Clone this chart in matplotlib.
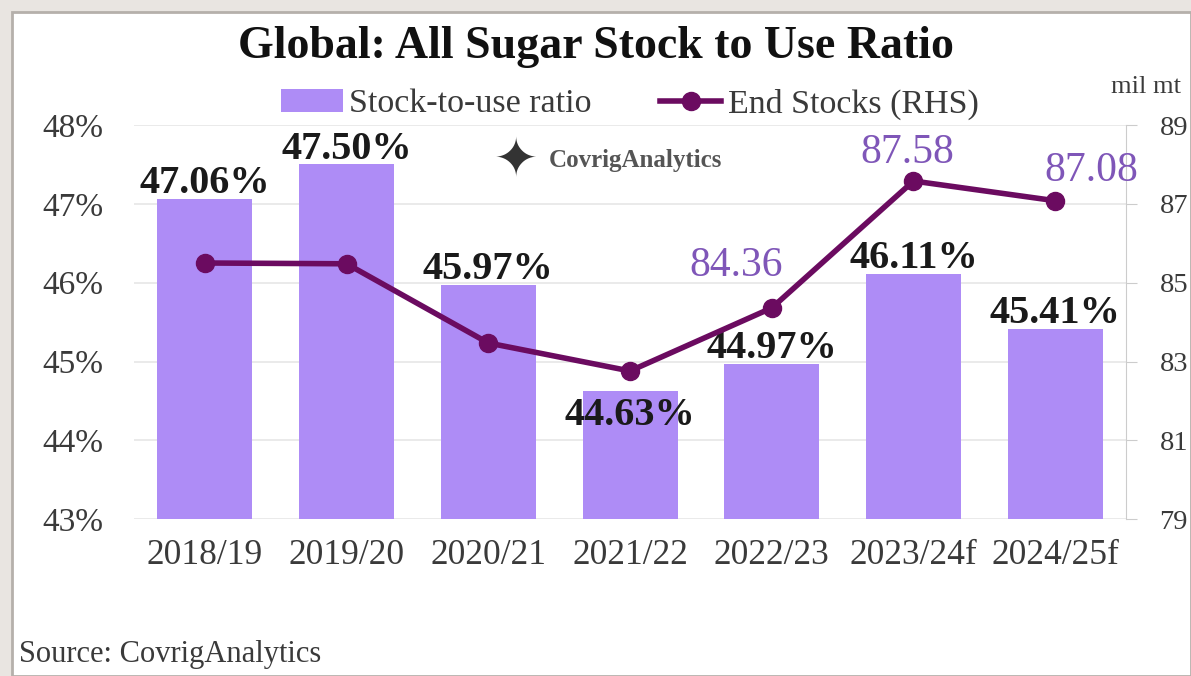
import matplotlib
matplotlib.use("Agg")
import matplotlib.pyplot as plt
from matplotlib.patches import Rectangle
import numpy as np

plt.rcParams['font.family'] = ['Liberation Serif', 'DejaVu Serif']

seasons = ["2018/19", "2019/20", "2020/21", "2021/22", "2022/23", "2023/24f", "2024/25f"]
ratio = [47.06, 47.50, 45.97, 44.63, 44.97, 46.11, 45.41]
stocks = [85.50, 85.48, 83.47, 82.76, 84.36, 87.58, 87.08]
# which end-stock points get a label, and where the label sits (px offset)
stock_labels = {4: (-36, 42), 5: (-6, 28), 6: (36, 30)}

bar_col = "#ae8cf6"
line_col = "#6b0b60"
lbl_col = "#7f56b8"
txt_col = "#3a3a3a"

fig = plt.figure(figsize=(11.91, 6.76), dpi=100)
fig.patch.set_facecolor("#e9e5e1")
# white panel with a grey frame
fig.patches.append(Rectangle((12 / 1191, 0), 1 - 12 / 1191, 1 - 12 / 676,
                             transform=fig.transFigure, facecolor="white",
                             edgecolor="#b5b0ab", linewidth=2, zorder=-10))

ax = fig.add_axes([0.1125, 0.232, 0.833, 0.583])
ax.set_facecolor("none")
x = np.arange(len(seasons))
bars = ax.bar(x, [r - 43 for r in ratio], bottom=43, width=0.67, color=bar_col,
              zorder=2, label="Stock-to-use ratio")
ax.set_xlim(-0.5, len(seasons) - 0.5)
ax.set_ylim(43, 48)
ax.set_yticks(range(43, 49))
ax.set_yticklabels([f"{v}%" for v in range(43, 49)], fontsize=24, color=txt_col)
ax.set_xticks(x)
ax.set_xticklabels(seasons, fontsize=25.5, color=txt_col)
ax.tick_params(axis="x", length=0, pad=14)
ax.tick_params(axis="y", length=0, pad=22)
ax.grid(axis="y", color="#e6e6e6", linewidth=1.2, zorder=0)
for s in ax.spines.values():
    s.set_visible(False)

for i, r in enumerate(ratio):
    if i == 3:
        # low bar: label goes inside, under the line
        ax.text(i, r - 0.08, f"{r:.2f}%", ha="center", va="top", fontsize=29,
                fontweight="bold", color="#1a1a1a", zorder=5)
    else:
        ax.text(i, r - 0.04, f"{r:.2f}%", ha="center", va="bottom", fontsize=29,
                fontweight="bold", color="#1a1a1a", zorder=5)

ax2 = ax.twinx()
ax2.plot(x, stocks, color=line_col, linewidth=4, marker="o", markersize=13,
         zorder=4, label="End Stocks (RHS)")
ax2.set_ylim(79, 89)
ax2.set_yticks(range(79, 90, 2))
ax2.tick_params(axis="y", labelsize=20.5, labelcolor=txt_col, length=8,
                color="#cccccc", pad=16)
for k in ["top", "left", "bottom"]:
    ax2.spines[k].set_visible(False)
ax2.spines["right"].set_color("#cccccc")
for i, (dx, dy) in stock_labels.items():
    ax2.annotate(f"{stocks[i]:.2f}", (i, stocks[i]), xytext=(dx * 0.72, dy * 0.72),
                 textcoords="offset points", ha="center", va="center",
                 fontsize=30, color=lbl_col, zorder=5)

fig.text(0.5, 0.93, "Global: All Sugar Stock to Use Ratio", ha="center",
         va="center", fontsize=33, fontweight="bold", color="#111111")
fig.text(0.992, 0.872, "mil mt", ha="right", va="center", fontsize=19,
         color=txt_col)

h1, l1 = ax.get_legend_handles_labels()
h2, l2 = ax2.get_legend_handles_labels()
fig.legend(h1 + h2, l1 + l2, loc="center", bbox_to_anchor=(0.529, 0.846), ncol=2,
           frameon=False, fontsize=24.5, handlelength=1.8, handletextpad=0.2,
           columnspacing=2.0, labelcolor=txt_col)

# logo
fig.text(0.433, 0.762, "\u2726", ha="center", va="center", fontsize=38,
         color="#333333", family="DejaVu Sans")
fig.text(0.461, 0.762, "CovrigAnalytics", ha="left", va="center", fontsize=18,
         color="#555555", fontweight="bold")

fig.text(0.016, 0.032, "Source: CovrigAnalytics", ha="left", va="center",
         fontsize=22, color=txt_col)

fig.savefig("out.png", dpi=100, facecolor=fig.get_facecolor())
